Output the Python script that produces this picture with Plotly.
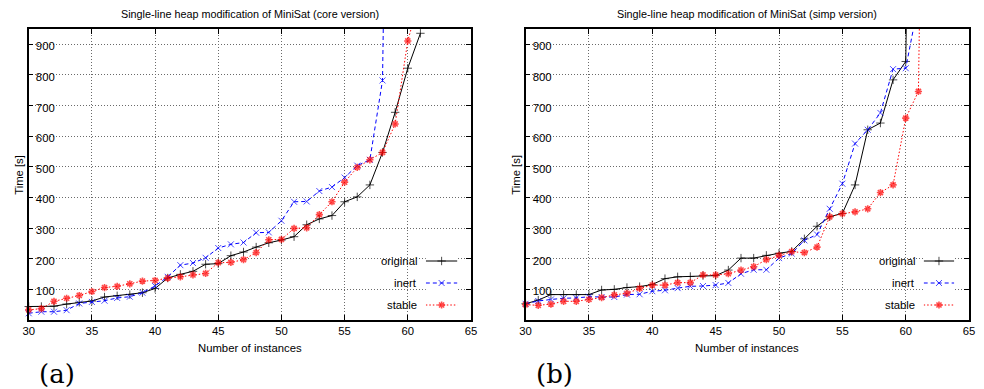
import plotly.graph_objects as go

W, H = 984, 389

# ---------------- data ----------------
start_instance = 30
series_names = ["original", "inert", "stable"]

core_original = [44, 44, 45, 52, 58, 62, 75, 79, 83, 89, 103, 137, 149, 159, 182, 184,
                 210, 222, 238, 252, 261, 272, 311, 330, 341, 386, 402, 441, 547, 678, 822, 936]
core_inert = [22, 27, 27, 32, 54, 59, 63, 72, 76, 89, 111, 141, 179, 186, 203, 235,
              247, 253, 285, 286, 324, 386, 387, 421, 434, 465, 504, 523, 782, 3600]
core_stable = [33, 37, 61, 71, 80, 93, 106, 110, 118, 127, 129, 137, 141, 147, 152, 187,
               188, 197, 220, 262, 263, 299, 301, 344, 386, 450, 498, 523, 547, 640, 911, 1060]

simp_original = [53, 65, 83, 83, 83, 83, 98, 100, 106, 109, 116, 135, 141, 142, 145, 145,
                 163, 202, 202, 211, 218, 224, 265, 306, 337, 348, 441, 621, 643, 784, 844, 3600]
simp_inert = [53, 62, 67, 71, 72, 76, 75, 75, 83, 84, 94, 97, 104, 110, 111, 114,
              121, 151, 164, 164, 202, 217, 260, 279, 363, 445, 576, 621, 676, 819, 822, 1035]
simp_stable = [50, 48, 52, 61, 61, 67, 73, 82, 87, 103, 114, 114, 122, 122, 147, 147,
               151, 163, 174, 197, 211, 223, 220, 238, 337, 347, 353, 363, 416, 441, 659, 746, 3600]

x_tick_vals = [30, 35, 40, 45, 50, 55, 60, 65]
y_tick_vals = [100, 200, 300, 400, 500, 600, 700, 800, 900]
x_range = [30, 65]
y_range = [0, 950]

titles = ["Single-line heap modification of MiniSat (core version)",
          "Single-line heap modification of MiniSat (simp version)"]
x_title = "Number of instances"
y_title = "Time [s]"
panel_labels = ["(a)", "(b)"]

# ---------------- styles ----------------
FONT = "Liberation Sans, Arial, sans-serif"
styles = {
    "original": dict(color="#000000", dash="solid", symbol="cross-thin-open", mlw=1),
    "inert": dict(color="#0000ff", dash="4px,3px", symbol="x-thin-open", mlw=1),
    "stable": dict(color="#ff0000", dash="1.5px,2px", symbol="asterisk-open", mlw=1.6),
}
MSIZE = 6


def px_x(p):
    return p / W


def px_y(p):
    return 1 - p / H


# plot boxes in pixels (left, right), shared top/bottom
boxes = [(23, 470.7), (526, 975)]
TOP, BOTTOM = 29, 320

fig = go.Figure()

panels = [
    ("x", "y", {"original": core_original, "inert": core_inert, "stable": core_stable}),
    ("x2", "y2", {"original": simp_original, "inert": simp_inert, "stable": simp_stable}),
]

for xa, ya, data in panels:
    for name in series_names:
        vals = data[name]
        xs = list(range(start_instance, start_instance + len(vals)))
        st = styles[name]
        sizes = [MSIZE if v <= y_range[1] else 0 for v in vals]
        fig.add_trace(go.Scatter(
            x=xs, y=vals, xaxis=xa, yaxis=ya, mode="lines+markers",
            line=dict(color=st["color"], width=1, dash=st["dash"]),
            marker=dict(symbol=st["symbol"], size=sizes, color=st["color"],
                        line=dict(color=st["color"], width=st["mlw"])),
            cliponaxis=False, showlegend=False, hoverinfo="skip",
        ))

axis_common = dict(
    showline=True, linecolor="black", linewidth=1.5, mirror="allticks",
    ticks="inside", ticklen=5, tickcolor="black", tickwidth=1,
    showgrid=True, gridcolor="#6a6a6a", gridwidth=1, griddash="1px,2px",
    zeroline=False, tickfont=dict(family=FONT, size=11.3, color="black"),
    fixedrange=True,
)

layout = dict(
    width=W, height=H, margin=dict(l=0, r=0, t=0, b=0),
    paper_bgcolor="white", plot_bgcolor="white", showlegend=False,
)

ydom = [px_y(BOTTOM), px_y(TOP)]
for i, (l, r) in enumerate(boxes):
    sx = "" if i == 0 else "2"
    layout["xaxis" + sx] = dict(axis_common, domain=[px_x(l), px_x(r)], range=x_range,
                                tickvals=x_tick_vals, anchor="y" + sx)
    layout["yaxis" + sx] = dict(axis_common, domain=ydom, range=y_range,
                                tickvals=y_tick_vals, anchor="x" + sx,
                                ticklabelstandoff=-30, ticklabelshift=2)

# ---------------- custom legends (text left, sample right) ----------------
legend_boxes = [  # (rect_left, text_right, sample_left, sample_right, rect_right)
    (362, 418, 425, 457, 470.7),
    (866, 922, 929, 960, 975),
]
LEG_TOP, LEG_BOT = 250, 316
row_px = [261, 283, 305]
shapes = []
annotations = []
for i, (rl, tr, sl, sr, rr) in enumerate(legend_boxes):
    ax = str(3 + i)
    layout["xaxis" + ax] = dict(domain=[px_x(sl), px_x(sr)], range=[0, 1], visible=False,
                                fixedrange=True, anchor="y" + ax)
    layout["yaxis" + ax] = dict(domain=[px_y(LEG_BOT), px_y(LEG_TOP)], range=[3.5, 0.5],
                                visible=False, fixedrange=True, anchor="x" + ax)
    shapes.append(dict(type="rect", xref="paper", yref="paper", layer="between",
                       x0=px_x(rl), x1=px_x(rr), y0=px_y(BOTTOM), y1=px_y(LEG_TOP),
                       fillcolor="white", line=dict(width=0)))
    for row, name in enumerate(series_names, start=1):
        st = styles[name]
        fig.add_trace(go.Scatter(
            x=[0, 0.5, 1], y=[row] * 3, xaxis="x" + ax, yaxis="y" + ax,
            mode="lines+markers",
            line=dict(color=st["color"], width=1, dash=st["dash"]),
            marker=dict(symbol=st["symbol"], size=[0, MSIZE, 0], color=st["color"],
                        line=dict(color=st["color"], width=st["mlw"])),
            showlegend=False, hoverinfo="skip", cliponaxis=False,
        ))
        annotations.append(dict(
            xref="paper", yref="paper", x=px_x(tr), y=px_y(row_px[row - 1]), text=name,
            showarrow=False, xanchor="right", yanchor="middle",
            font=dict(family=FONT, size=11.3, color="black"),
        ))

# ---------------- titles and labels ----------------
for i, (l, r) in enumerate(boxes):
    cx = (l + r) / 2
    annotations.append(dict(xref="paper", yref="paper", x=px_x(cx), y=px_y(14),
                            text=titles[i], showarrow=False, xanchor="center",
                            yanchor="middle",
                            font=dict(family=FONT, size=10.8, color="black")))
    annotations.append(dict(xref="paper", yref="paper", x=px_x(cx), y=px_y(348),
                            text=x_title, showarrow=False, xanchor="center",
                            yanchor="middle",
                            font=dict(family=FONT, size=11.3, color="black")))
    annotations.append(dict(xref="paper", yref="paper", x=px_x(l - 10), y=px_y(175),
                            text=y_title, showarrow=False, xanchor="center",
                            yanchor="middle", textangle=-90,
                            font=dict(family=FONT, size=11.3, color="black")))
    annotations.append(dict(xref="paper", yref="paper", x=px_x(l + 29), y=px_y(374),
                            text=panel_labels[i], showarrow=False, xanchor="center",
                            yanchor="middle",
                            font=dict(family="DejaVu Serif, serif", size=26,
                                      color="black")))

layout["shapes"] = shapes
layout["annotations"] = annotations
fig.update_layout(**layout)

fig.write_html("out.html")
